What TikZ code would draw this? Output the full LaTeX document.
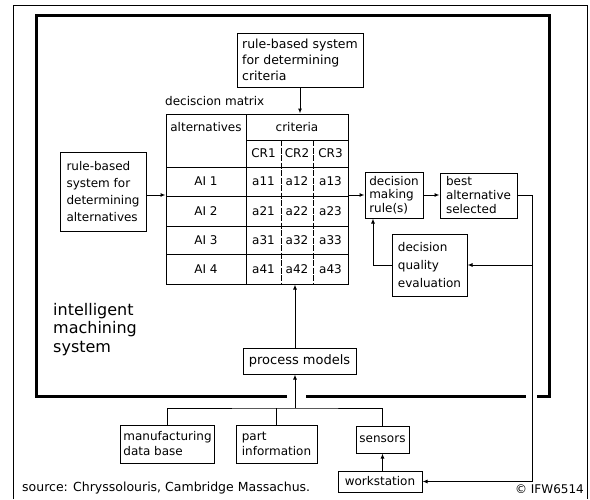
\documentclass[tikz,border=0pt]{standalone}
\usepackage{fontspec}
\setmainfont{DejaVu Sans}
\usetikzlibrary{arrows.meta}
\begin{document}
\begin{tikzpicture}[x=1pt, y=-1pt,
  box/.style={draw, line width=1pt, align=left, inner sep=3pt, font=\fontsize{12}{15}\selectfont},
  arr/.style={line width=1pt, -{Latex[length=5pt,width=4pt]}},
  ln/.style={line width=1pt},
  cell/.style={inner sep=0pt, font=\fontsize{12}{14}\selectfont}]
\useasboundingbox (0,0) rectangle (590,499);
\draw[line width=0.8pt] (13,499) -- (13,5) -- (587,5) -- (587,499);
\draw[line width=3pt] (287,396) -| (36,15) -| (549,396) -- (537,396);
\draw[line width=3pt] (306,396) -- (526,396);
\node[box, minimum width=126pt, minimum height=54pt, font=\fontsize{12.5}{16}\selectfont] (crit) at (300,60) {rule-based system\\for determining\\criteria};
\node[box, minimum width=86pt, minimum height=79pt, font=\fontsize{12}{17}\selectfont] (alt) at (103,191.5) {rule-based\\system for\\determining\\alternatives};
\node[box, minimum width=58pt, minimum height=46pt, font=\fontsize{12}{13.5}\selectfont] (dmr) at (394,195) {decision\\making\\rule(s)};
\node[box, minimum width=77pt, minimum height=45pt, font=\fontsize{12}{14}\selectfont] (best) at (478.5,195.5) {best\\alternative\\selected};
\node[box, minimum width=75pt, minimum height=62pt, font=\fontsize{12}{18}\selectfont] (qual) at (429.5,265) {decision\\quality\\evaluation};
\node[box, minimum width=113pt, minimum height=26pt, font=\fontsize{13}{15}\selectfont] (proc) at (299.5,361) {process models};
\node[box, minimum width=93pt, minimum height=38pt] (mfg) at (167.5,444) {manufacturing\\data base};
\node[box, minimum width=81pt, minimum height=38pt] (part) at (276.5,444) {part\\information};
\node[box, minimum width=53pt, minimum height=27pt] (sens) at (382.5,439.5) {sensors};
\node[box, minimum width=84pt, minimum height=21pt] (ws) at (380,481.5) {workstation};
\node[draw, line width=1pt, minimum width=182pt, minimum height=170pt] (dm) at (257,199) {};
\draw[ln] (246,114) -- (246,284);
\draw[ln] (246,140) -- (348,140);
\foreach \y in {167,196,226,254} \draw[line width=0.8pt] (166,\y) -- (348,\y);
\foreach \x in {281,313} \draw[line width=0.7pt, dash pattern=on 6pt off 1.5pt] (\x,140) -- (\x,284);
\node[cell] (althd) at (206,127) {alternatives};
\node[cell] (crhd) at (297,127) {criteria};
\foreach \j/\x in {1/263.5, 2/297, 3/330.5} \node[cell] (cr\j) at (\x,153) {CR\j};
\foreach \i/\y in {1/181.5, 2/211, 3/240, 4/269} {
  \node[cell] (ai\i) at (206,\y) {AI \i};
  \foreach \j/\x in {1/263.5, 2/297, 3/330.5} \node[cell] (a\i\j) at (\x,\y) {a\i\j};
}
\node[cell, anchor=west] (dmlbl) at (165,101) {deciscion matrix};
\node[inner sep=0pt, anchor=north west, align=left, font=\fontsize{16}{18.5}\selectfont] (ims) at (53,303) {intelligent\\machining\\system};
\node[inner sep=0pt, anchor=west, font=\fontsize{12.5}{14}\selectfont] (src) at (22,488) {source: Chryssolouris, Cambridge Massachus.};
\node[cell, anchor=east] (ifw) at (584,489) {© IFW6514};
\coordinate (bus) at (295,408);
\coordinate (rt) at (532,265);
\coordinate (lp) at (373,265);
\draw[arr] (crit.south) -- (crit.south |- dm.north);
\draw[arr] (alt.east |- dmr.west) -- (dm.west |- dmr.west);
\draw[arr] (dm.east |- dmr.west) -- (dmr.west);
\draw[arr] (dmr.east) -- (best.west |- dmr.east);
\draw[arr] (best.east) -| (rt |- ws.east) -- (ws.east);
\draw[arr] (rt) -- (qual.east);
\draw[arr] (qual.west) -| (lp |- dmr.south);
\draw[arr] (bus |- proc.north) -- (bus |- dm.south);
\draw[arr] (bus) -- (bus |- proc.south);
\draw[ln] (mfg.north) |- (bus) -| (sens.north);
\draw[ln] (part.north) -- (part.north |- bus);
\draw[arr] (ws.north -| sens.south) -- (sens.south);
\end{tikzpicture}
\end{document}
